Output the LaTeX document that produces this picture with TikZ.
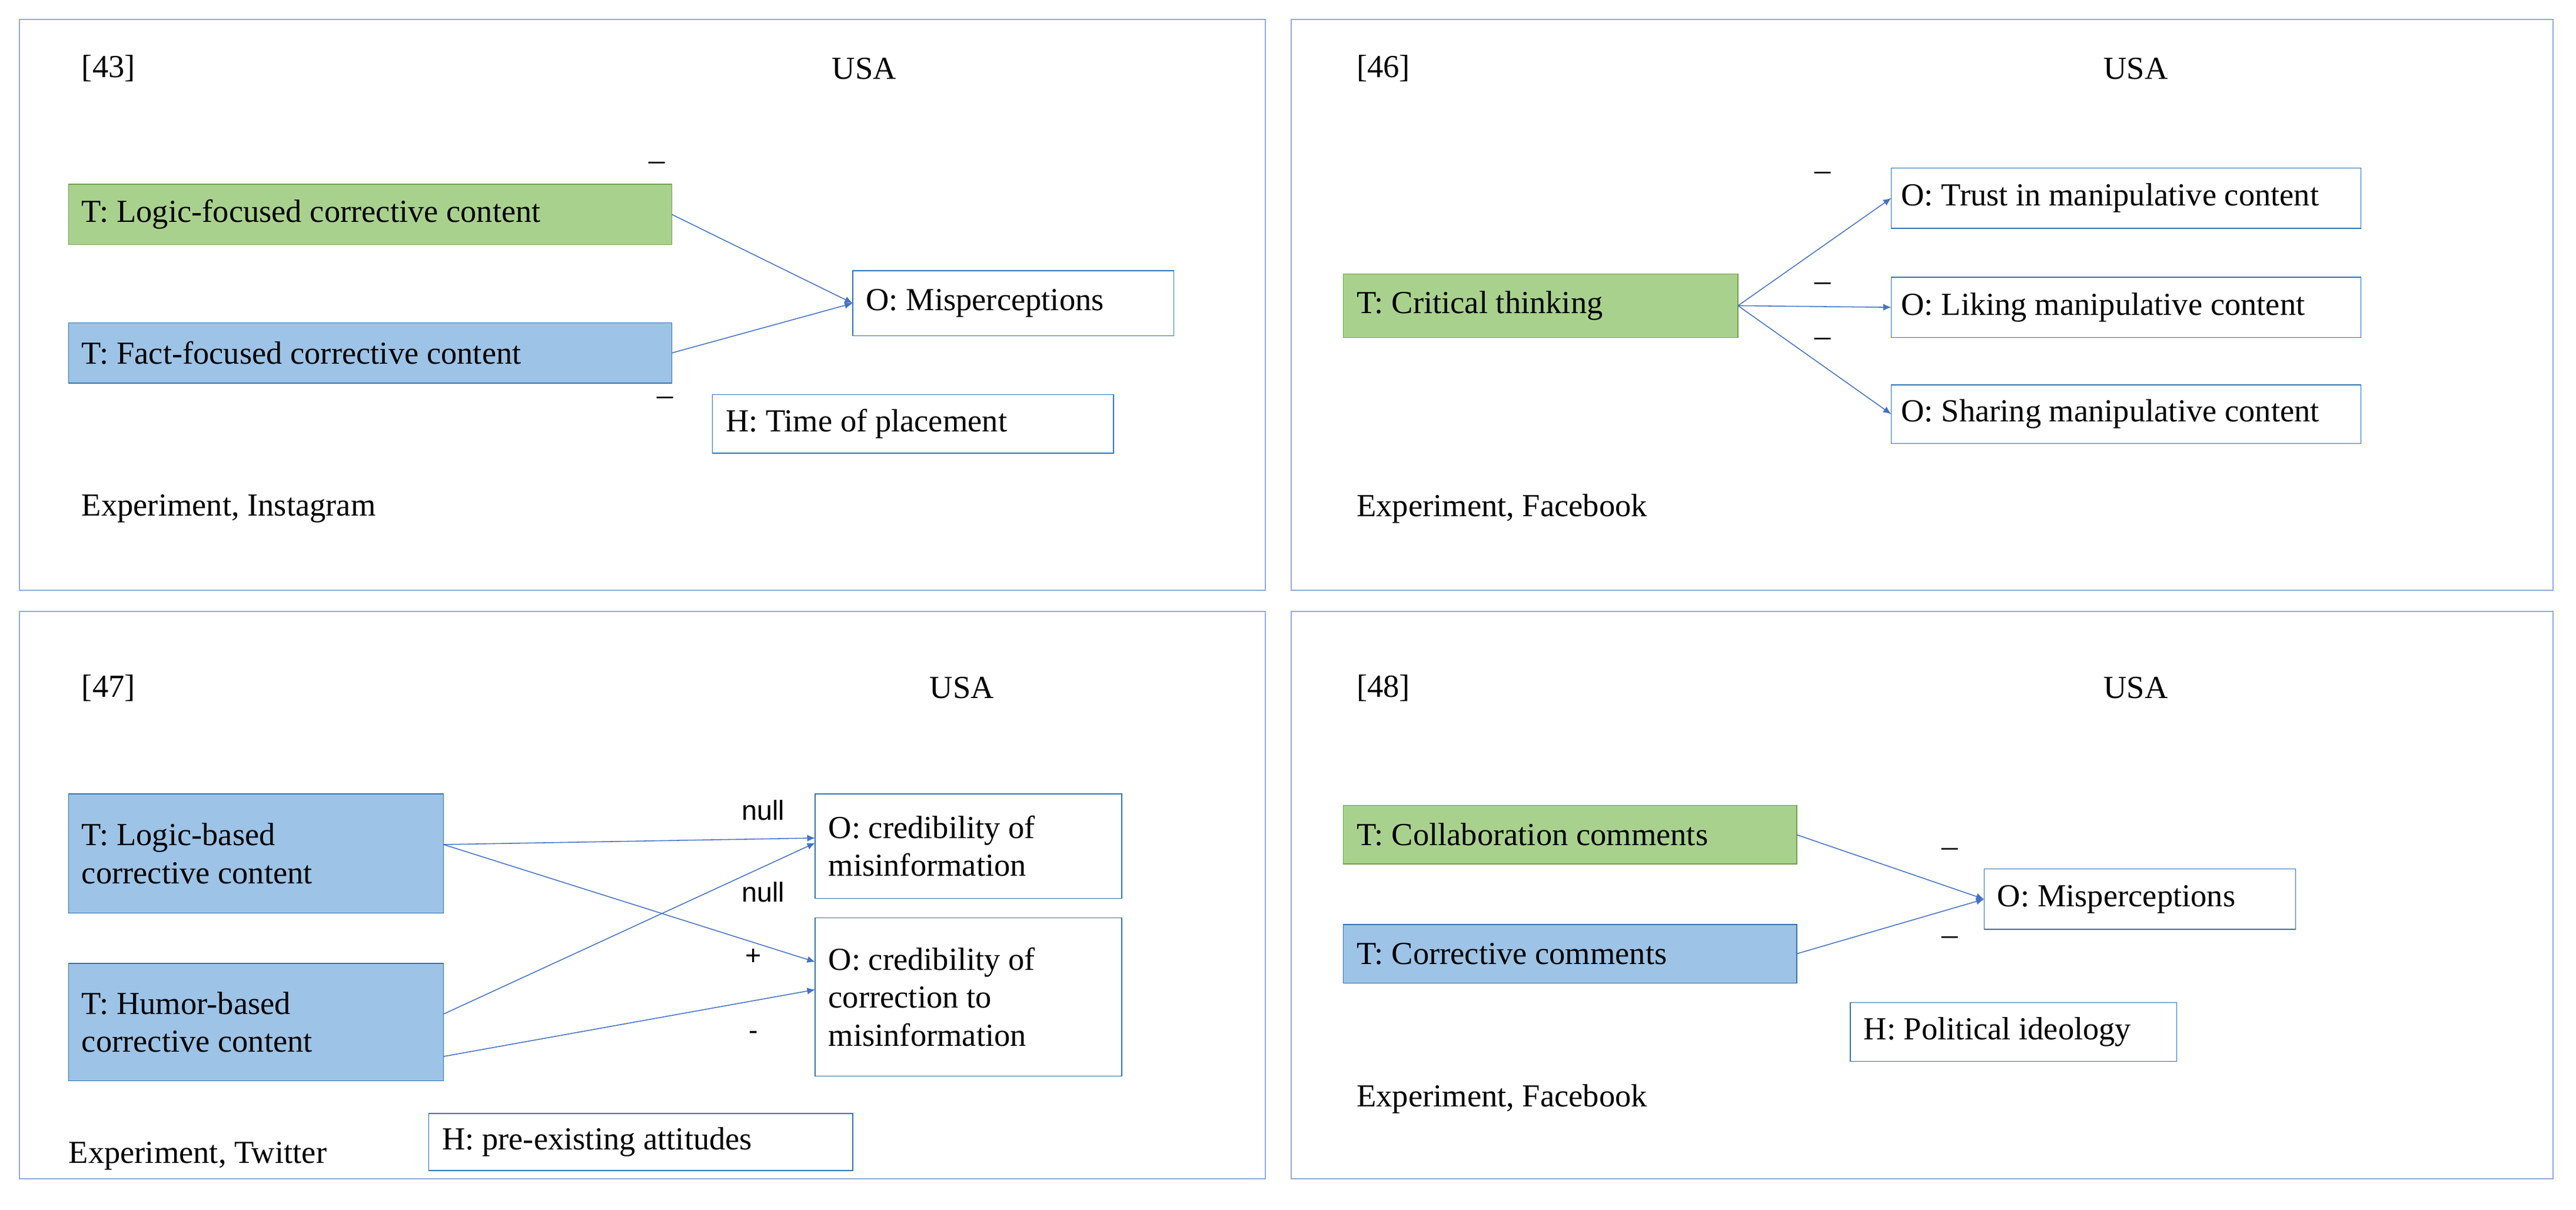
\documentclass[tikz,border=0pt]{standalone}
\usepackage{fontspec}
\setmainfont{Liberation Serif}
\newfontfamily\sff{Liberation Sans}
\usetikzlibrary{arrows.meta}
\definecolor{gfill}{HTML}{A9D18E}
\definecolor{bfill}{HTML}{9DC3E6}
\definecolor{gline}{HTML}{6FA04A}
\definecolor{bline}{HTML}{2E75B6}
\definecolor{pline}{HTML}{8FAADC}
\definecolor{aline}{HTML}{4472C4}
\begin{document}
\begin{tikzpicture}[x=0.5mm,y=-0.5mm,
  every node/.style={font=\fontsize{28}{33}\selectfont},
  panel/.style={draw=pline,line width=1.2pt},
  tg/.style={draw=gline,fill=gfill,line width=0.8pt},
  tb/.style={draw=bline,fill=bfill,line width=0.8pt},
  ob/.style={draw=bline,fill=white,line width=0.8pt},
  txt/.style={anchor=west,inner sep=0pt},
  lab/.style={inner sep=0pt},
  sl/.style={inner sep=0pt,font=\sff\fontsize{24}{28}\selectfont},
  arr/.style={draw=aline,line width=0.8pt,-{Latex[length=7pt,width=6pt]}}]
\useasboundingbox (0,0) rectangle (1580,742);
% panels
\draw[panel] (12,12) rectangle (776,362);
\draw[panel] (792,12) rectangle (1566,362);
\draw[panel] (12,375) rectangle (776,723);
\draw[panel] (792,375) rectangle (1566,723);
% panel 1
\node[txt] (r43) at (50,42) {[43]};
\node[lab] (u1) at (530,42) {USA};
\draw[tg] (42,113) rectangle (412,150); \node[txt] (a1) at (50,131.5) {T: Logic-focused corrective content};
\coordinate (a1e) at (412,131.5);
\draw[tb] (42,198) rectangle (412,235); \node[txt] (a2) at (50,216.5) {T: Fact-focused corrective content};
\coordinate (a2e) at (412,216.5);
\draw[ob] (523,166) rectangle (720,206); \node[txt] (a3) at (531,186) {O: Misperceptions};
\coordinate (a3w) at (523,186);
\draw[ob] (437,242) rectangle (683,278); \node[txt] (a4) at (445,260) {H: Time of placement};
\node[txt] (a5) at (50,312) {Experiment, Instagram};
\draw[arr] (a1e) -- (a3w); \draw[arr] (a2e) -- (a3w);
\node[lab] (m1) at (403,102) {--};
\node[lab] (m2) at (408,246) {--};
% panel 2
\node[txt] (r46) at (832,42) {[46]};
\node[lab] (u2) at (1310,42) {USA};
\draw[tg] (824,168) rectangle (1066,207); \node[txt] (b1) at (832,187.5) {T: Critical thinking};
\coordinate (b1e) at (1066,187.5);
\draw[ob] (1160,103) rectangle (1448,140); \node[txt] (b2) at (1166,121.5) {O: Trust in manipulative content};
\draw[ob] (1160,170) rectangle (1448,207); \node[txt] (b3) at (1166,188.5) {O: Liking manipulative content};
\draw[ob] (1160,236) rectangle (1448,272); \node[txt] (b4) at (1166,254) {O: Sharing manipulative content};
\coordinate (b2w) at (1160,121.5); \coordinate (b3w) at (1160,188.5); \coordinate (b4w) at (1160,254);
\draw[arr] (b1e) -- (b2w); \draw[arr] (b1e) -- (b3w); \draw[arr] (b1e) -- (b4w);
\node[lab] (m3) at (1118,108) {--};
\node[lab] (m4) at (1118,176) {--};
\node[lab] (m5) at (1118,210) {--};
\node[txt] (b5) at (832,312) {Experiment, Facebook};
% panel 3
\node[txt] (r47) at (50,422) {[47]};
\node[lab] (u3) at (590,422) {USA};
\draw[tb] (42,487) rectangle (272,560);
\node[txt,align=left] (c1) at (50,523.5) {T: Logic-based\\corrective content};
\draw[tb] (42,591) rectangle (272,663);
\node[txt,align=left] (c2) at (50,627) {T: Humor-based\\corrective content};
\draw[ob] (500,487) rectangle (688,551);
\node[txt,align=left] (c3) at (508,519) {O: credibility of\\misinformation};
\draw[ob] (500,563) rectangle (688,660);
\node[txt,align=left] (c4) at (508,611.5) {O: credibility of\\correction to\\misinformation};
\draw[ob] (263,683) rectangle (523,718); \node[txt] (c5) at (271,700.5) {H: pre-existing attitudes};
\node[txt] (c6) at (42,709) {Experiment, Twitter};
\coordinate (c1e) at (272,518); \coordinate (c2e1) at (272,622); \coordinate (c2e2) at (272,648);
\coordinate (c3w1) at (500,514); \coordinate (c3w2) at (500,517);
\coordinate (c4w1) at (500,590); \coordinate (c4w2) at (500,607);
\draw[arr] (c1e) -- (c3w1); \draw[arr] (c1e) -- (c4w1);
\draw[arr] (c2e1) -- (c3w2); \draw[arr] (c2e2) -- (c4w2);
\node[sl] (n1) at (468,497) {null};
\node[sl] (n2) at (468,547) {null};
\node[sl] (n3) at (462,587) {+};
\node[sl] (n4) at (462,635) {-};
% panel 4
\node[txt] (r48) at (832,422) {[48]};
\node[lab] (u4) at (1310,422) {USA};
\draw[tg] (824,494) rectangle (1102,530); \node[txt] (d1) at (832,512) {T: Collaboration comments};
\draw[tb] (824,567) rectangle (1102,603); \node[txt] (d2) at (832,585) {T: Corrective comments};
\draw[ob] (1217,533) rectangle (1408,570); \node[txt] (d3) at (1225,551.5) {O: Misperceptions};
\draw[ob] (1135,615) rectangle (1335,651); \node[txt] (d4) at (1143,633) {H: Political ideology};
\node[txt] (d5) at (832,674) {Experiment, Facebook};
\coordinate (d1e) at (1102,512); \coordinate (d2e) at (1102,585); \coordinate (d3w) at (1217,551.5);
\draw[arr] (d1e) -- (d3w); \draw[arr] (d2e) -- (d3w);
\node[lab] (m6) at (1196,523) {--};
\node[lab] (m7) at (1196,577) {--};
\end{tikzpicture}
\end{document}
